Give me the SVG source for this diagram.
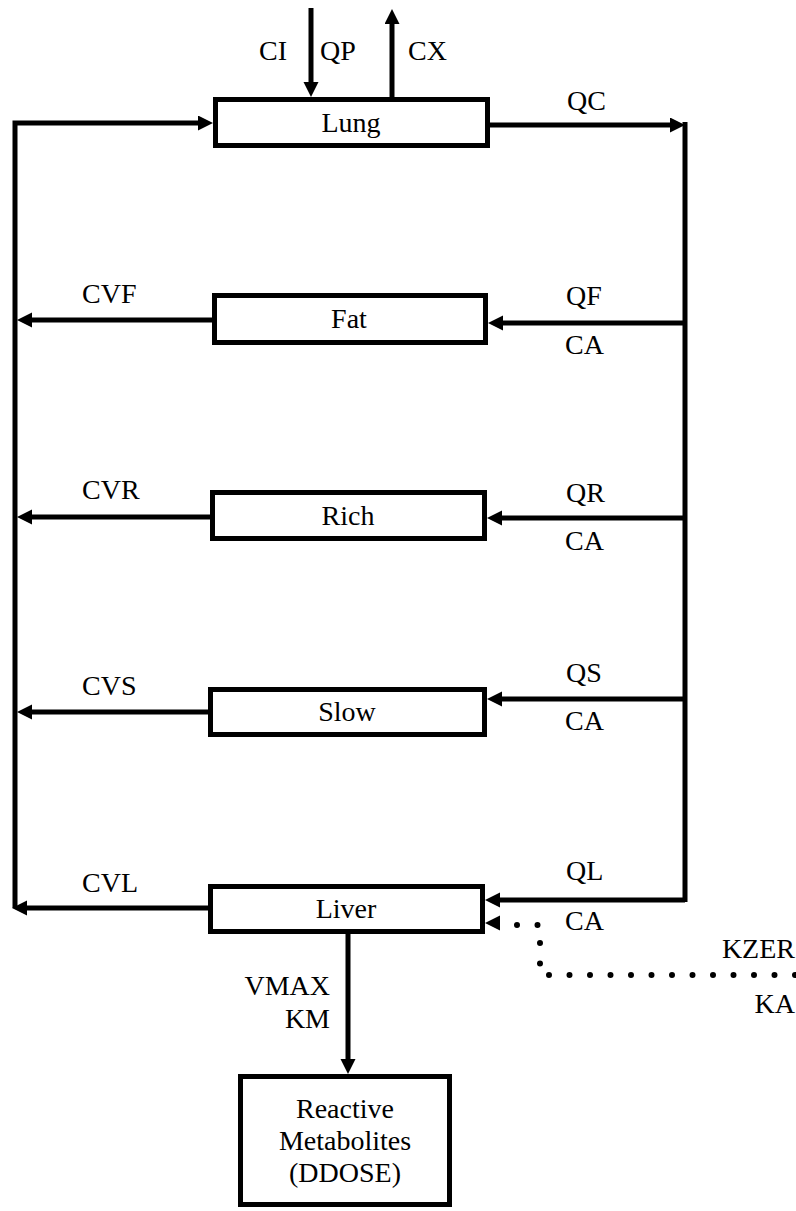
<svg xmlns="http://www.w3.org/2000/svg" width="796" height="1211" viewBox="0 0 796 1211">
<style>
text{font-family:'Times New Roman',Times,'Liberation Serif','Nimbus Roman','DejaVu Serif','Noto Serif',serif;font-size:28px;fill:#000}
.box{fill:#fff;stroke:#000;stroke-width:5}
.ln{fill:none;stroke:#000;stroke-width:5}
.arr{marker-end:url(#ah)}
.dot{fill:none;stroke:#000;stroke-width:6;stroke-linecap:round;stroke-dasharray:0 20.5}
.c{text-anchor:middle}
.e{text-anchor:end}
</style>
<defs>
<marker id="ah" markerUnits="userSpaceOnUse" markerWidth="16" markerHeight="16" refX="7" refY="7.5" orient="auto">
<path d="M0,0 L15,7.5 L0,15 z" fill="#000"/>
</marker>
</defs>
<g id="connectors">
<path class="ln arr" d="M311 8 V89"/>
<path class="ln arr" d="M392 97 V17"/>
<path class="ln arr" d="M15 908 V123 H205"/>
<path class="ln arr" d="M490 125 H677"/>
<path class="ln" d="M685 122 V902"/>
<path class="ln arr" d="M685 323 H496"/>
<path class="ln arr" d="M212 320 H25"/>
<path class="ln arr" d="M685 518 H495"/>
<path class="ln arr" d="M210 517 H25"/>
<path class="ln arr" d="M685 699 H495"/>
<path class="ln arr" d="M208 712 H25"/>
<path class="ln arr" d="M685 900 H493"/>
<path class="ln arr" d="M208 908 H20"/>
<polygon points="485,923 500,915.5 500,930.5" fill="#000"/>
<path class="dot" d="M517 925 H540 V975 H796"/>
<path class="ln arr" d="M348 934 V1066"/>
<text x="259" y="60">CI</text>
<text x="320" y="60">QP</text>
<text x="408" y="60">CX</text>
<text x="567" y="110">QC</text>
<text x="82" y="303">CVF</text>
<text x="566" y="305">QF</text>
<text x="565" y="354">CA</text>
<text x="82" y="499">CVR</text>
<text x="566" y="502">QR</text>
<text x="565" y="550">CA</text>
<text x="82" y="695">CVS</text>
<text x="566" y="682">QS</text>
<text x="565" y="730">CA</text>
<text x="82" y="892">CVL</text>
<text x="566" y="880">QL</text>
<text x="565" y="930">CA</text>
<text class="e" x="795" y="958">KZER</text>
<text class="e" x="795" y="1013">KA</text>
<text class="e" x="330" y="995">VMAX</text>
<text class="e" x="330" y="1028">KM</text>
</g>
<g id="lung">
<rect class="box" x="215.5" y="99.5" width="272" height="46"/>
<text class="c" x="351" y="132">Lung</text>
</g>
<g id="fat">
<rect class="box" x="214.5" y="295.5" width="271" height="47"/>
<text class="c" x="349" y="328">Fat</text>
</g>
<g id="rich">
<rect class="box" x="212.5" y="492.5" width="272" height="46"/>
<text class="c" x="348" y="525">Rich</text>
</g>
<g id="slow">
<rect class="box" x="210.5" y="689.5" width="274" height="45"/>
<text class="c" x="347" y="721">Slow</text>
</g>
<g id="liver">
<rect class="box" x="210.5" y="886.5" width="272" height="45"/>
<text class="c" x="346" y="918">Liver</text>
</g>
<g id="reactive">
<rect class="box" x="240.5" y="1076.5" width="209" height="128"/>
<text class="c" x="345" y="1118">Reactive</text>
<text class="c" x="345" y="1150">Metabolites</text>
<text class="c" x="345" y="1182">(DDOSE)</text>
</g>
</svg>
